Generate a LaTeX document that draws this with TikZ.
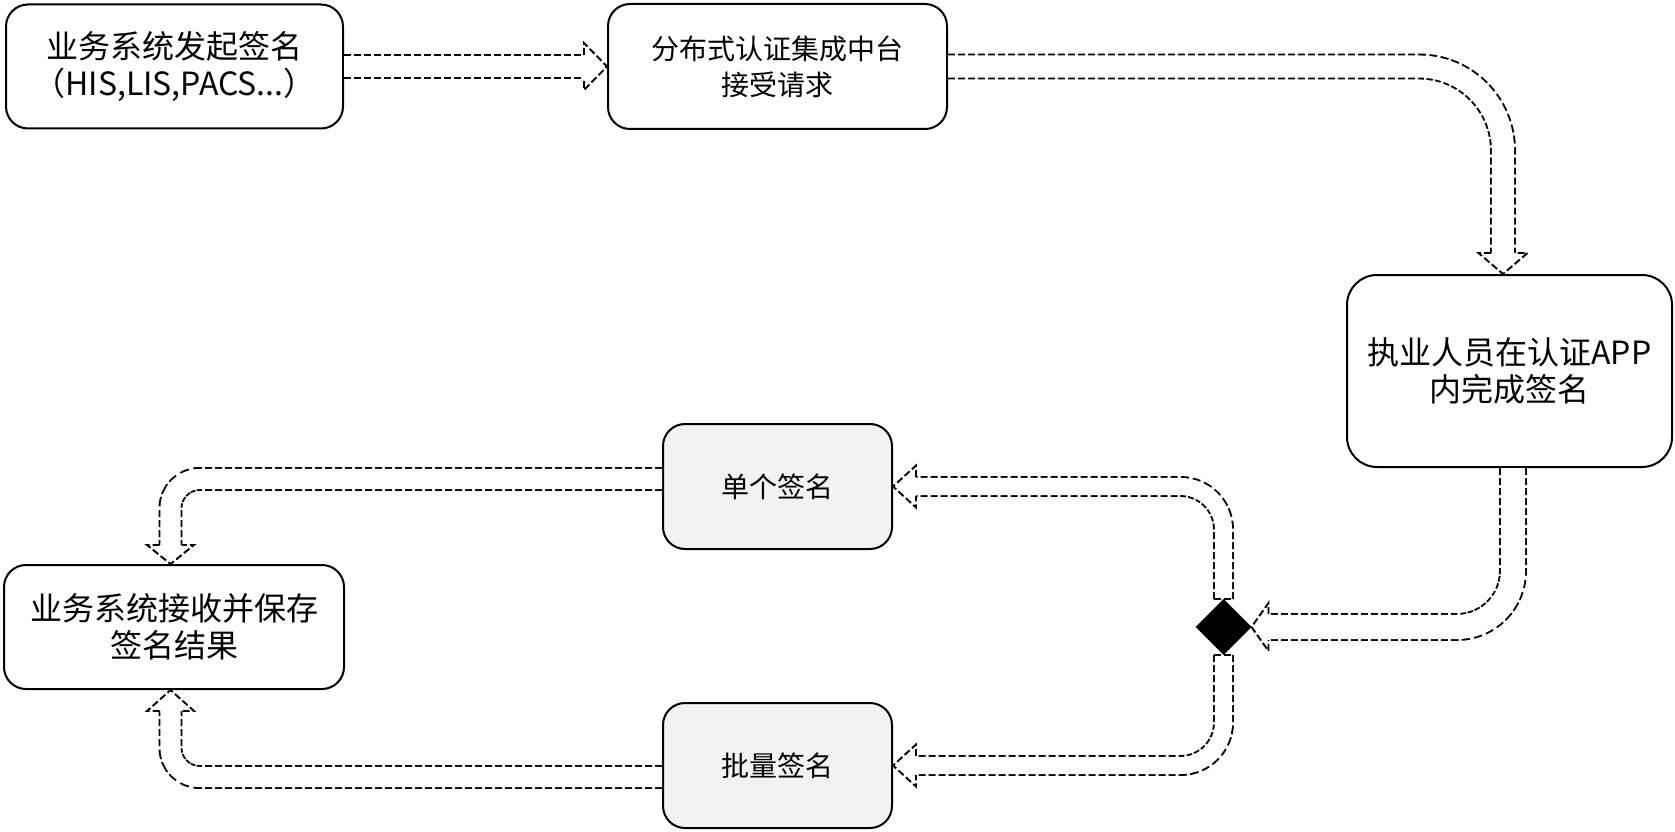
\documentclass[tikz,border=0pt]{standalone}
\usepackage{fontspec}
\setmainfont{Noto Sans CJK SC}
\usetikzlibrary{shapes.geometric,calc}
\newcommand{\hheadH}[4]{\draw[headline] ($(#1)+(0,-#3)$) -- ($(#1)+(0,-#4)$) -- (#2) -- ($(#1)+(0,#4)$) -- ($(#1)+(0,#3)$);}
\newcommand{\hheadV}[4]{\draw[headline] ($(#1)+(-#3,0)$) -- ($(#1)+(-#4,0)$) -- (#2) -- ($(#1)+(#4,0)$) -- ($(#1)+(#3,0)$);}
\begin{document}
\begin{tikzpicture}[x=1pt,y=-1pt,
  box/.style={draw=black, line width=2pt, rounded corners=22pt, fill=white, align=center, inner sep=0pt},
  bigtxt/.style={font=\fontsize{32}{37}\selectfont},
  smalltxt/.style={font=\fontsize{28}{36}\selectfont},
  graybox/.style={box, fill=black!5},
  hollow/.style n args={2}{draw=black, line width=#1, dash pattern=on 7pt off 3pt, postaction={draw=white, solid, line width=#2}},
  headline/.style={draw=black, line width=1.9pt, dash pattern=on 7pt off 3pt, fill=white, line join=miter},
  capline/.style={draw=black, line width=1.9pt, dash pattern=on 7pt off 3pt},
  junction/.style={diamond, fill=black, draw=none, minimum width=56pt, minimum height=56pt, inner sep=0pt, outer sep=0pt}
]
\fill[white] (0,0) rectangle (1675,832);
\useasboundingbox (0,0) rectangle (1675,832);

% boxes
\node[box, bigtxt, minimum width=337pt, minimum height=124pt] (b1) at (174.5,66.5) {业务系统发起签名\\（HIS,LIS,PACS...）};
\node[box, smalltxt, minimum width=339pt, minimum height=125pt] (b2) at (777.5,66.5) {分布式认证集成中台\\接受请求};
\node[box, bigtxt, rounded corners=30pt, minimum width=325pt, minimum height=192pt] (b3) at (1509.5,371) {执业人员在认证APP\\内完成签名};
\node[graybox, smalltxt, minimum width=229pt, minimum height=125pt] (b4) at (777.5,486.5) {单个签名};
\node[graybox, smalltxt, minimum width=229pt, minimum height=125pt] (b5) at (777.5,765.5) {批量签名};
\node[box, bigtxt, minimum width=340pt, minimum height=124pt] (b6) at (174,627) {业务系统接收并保存\\签名结果};
\node[junction] (dm) at (1223.5,627) {};

% arrow 1: b1 -> b2
\coordinate (h1) at ($(b2.west)+(-23,0)$);
\draw[hollow={24.9pt}{21.1pt}] (b1.east |- h1) -- (h1);
\hheadH{h1}{b2.west}{11.5}{23.5}

% arrow 2: b2 -> b3
\coordinate (c2) at ($(b3.north |- b2.east)+(-6.5,0)$);
\coordinate (h2) at ($(c2 |- b3.north)+(0,-21)$);
\draw[hollow={25.9pt}{22.1pt}, rounded corners=84pt] (b2.east) -- (c2) -- (h2);
\hheadV{h2}{c2 |- b3.north}{12}{24.5}

% arrow 3: b3 -> junction
\coordinate (s3) at ($(b3.south)+(3.5,0)$);
\coordinate (c3) at (s3 |- dm);
\coordinate (h3) at ($(dm.east)+(17,0)$);
\draw[hollow={27.9pt}{24.1pt}, rounded corners=56pt] (s3) -- (c3) -- (h3);
\hheadH{h3}{dm.east}{13}{24}

% arrow 4: junction -> b4
\coordinate (c4) at (dm |- b4.east);
\coordinate (h4) at ($(b4.east)+(23,0)$);
\draw[hollow={20.9pt}{17.1pt}, rounded corners=43pt] (dm.north) -- (c4) -- (h4);
\draw[capline] ($(dm.north)+(-9.5,0)$) -- ($(dm.north)+(9.5,0)$);
\hheadH{h4}{b4.east}{9.5}{21}

% arrow 5: junction -> b5
\coordinate (c5) at (dm |- b5.east);
\coordinate (h5) at ($(b5.east)+(23,0)$);
\draw[hollow={20.9pt}{17.1pt}, rounded corners=43pt] (dm.south) -- (c5) -- (h5);
\draw[capline] ($(dm.south)+(-9.5,0)$) -- ($(dm.south)+(9.5,0)$);
\hheadH{h5}{b5.east}{9.5}{21}

% arrow 6: b4 -> b6
\coordinate (s6) at ($(b4.west)+(0,-7.5)$);
\coordinate (c6) at ($(b6.north |- s6)+(-3.5,0)$);
\coordinate (h6) at ($(c6 |- b6.north)+(0,-19)$);
\draw[hollow={23.9pt}{20.1pt}, rounded corners=29pt] (s6) -- (c6) -- (h6);
\hheadV{h6}{c6 |- b6.north}{11}{23.5}

% arrow 7: b5 -> b6
\coordinate (s7) at ($(b5.west)+(0,11.5)$);
\coordinate (c7) at ($(b6.south |- s7)+(-3.5,0)$);
\coordinate (h7) at ($(c7 |- b6.south)+(0,21)$);
\draw[hollow={23.9pt}{20.1pt}, rounded corners=29pt] (s7) -- (c7) -- (h7);
\hheadV{h7}{c7 |- b6.south}{11}{23.5}
\end{tikzpicture}
\end{document}
